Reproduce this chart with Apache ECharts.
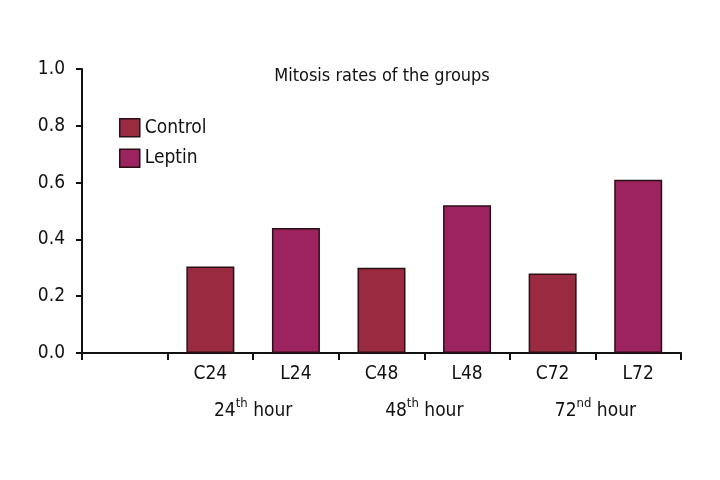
<!DOCTYPE html>
<html>
<head>
<meta charset="utf-8">
<script src="https://cdn.jsdelivr.net/npm/echarts@6/dist/echarts.min.js"></script>
<style>html,body{margin:0;padding:0;background:#fff}#c{width:720px;height:480px}</style>
</head>
<body>
<div id="c"></div>
<script>
var categories = ['', 'C24', 'L24', 'C48', 'L48', 'C72', 'L72'];
var controlValues = [null, 0.305, null, 0.30, null, 0.28, null];
var leptinValues = [null, null, 0.44, null, 0.52, null, 0.61];
var groupLabels = {2: ['24', 'th'], 4: ['48', 'th'], 6: ['72', 'nd']};
var yTicks = [0, 0.2, 0.4, 0.6, 0.8, 1.0];

var FONT = '"Liberation Sans Narrow", "DejaVu Sans Condensed", sans-serif';
var chart = echarts.init(document.getElementById('c'), null, {renderer: 'canvas'});
chart.setOption({
  animation: false,
  backgroundColor: '#fff',
  title: {
    text: 'Mitosis rates of the groups',
    left: 377, top: 62, textAlign: 'center',
    textStyle: {fontFamily: FONT, fontSize: 18, fontWeight: 'normal', color: '#111'}
  },
  legend: {
    orient: 'vertical', left: 114, top: 113, icon: 'rect',
    itemWidth: 20, itemHeight: 18, itemGap: 11,
    textStyle: {fontFamily: FONT, fontSize: 19, color: '#111', padding: [0, 0, 0, 0]},
    data: [
      {name: 'Control', itemStyle: {borderColor: '#2a1016', borderWidth: 1.5}},
      {name: 'Leptin', itemStyle: {borderColor: '#2a1016', borderWidth: 1.5}}
    ]
  },
  grid: {left: 82, right: 39, top: 69, bottom: 127, containLabel: false},
  xAxis: [{
    type: 'category', data: categories, position: 'bottom',
    boundaryGap: true,
    axisLine: {lineStyle: {color: '#111', width: 2}},
    axisTick: {show: true, length: 7, inside: false, alignWithLabel: false, lineStyle: {color: '#111', width: 2}},
    axisLabel: {fontFamily: FONT, fontSize: 19, color: '#111', margin: 12}
  }, {
    type: 'value', min: 0, max: 7, interval: 1, position: 'bottom', offset: 32,
    axisLine: {show: false}, axisTick: {show: false}, splitLine: {show: false},
    axisLabel: {
      fontFamily: FONT, fontSize: 19, color: '#111', showMinLabel: true, showMaxLabel: true,
      formatter: function (v) {
        var g = groupLabels[v];
        return g ? '{n|' + g[0] + '}{s|' + g[1] + '}{n| hour}' : '';
      },
      rich: {
        n: {fontFamily: FONT, fontSize: 19, color: '#111', verticalAlign: 'bottom', height: 22},
        s: {fontFamily: FONT, fontSize: 13, color: '#111', verticalAlign: 'top', height: 22, padding: [0, 0, 7, 0]}
      }
    }
  }],
  yAxis: {
    type: 'value', min: 0, max: 1, interval: 0.2,
    axisLine: {show: true, lineStyle: {color: '#111', width: 2}},
    axisTick: {show: true, length: 6, lineStyle: {color: '#111', width: 2}},
    splitLine: {show: false},
    axisLabel: {fontFamily: FONT, fontSize: 19, color: '#111', margin: 17,
      formatter: function (v) { return v.toFixed(1); }}
  },
  series: [{
    name: 'Control', type: 'bar', stack: 'g', xAxisIndex: 0, data: controlValues,
    barWidth: 48,
    itemStyle: {color: '#9a2a40', borderColor: '#2a1016', borderWidth: 1.5}
  }, {
    name: 'Leptin', type: 'bar', stack: 'g', xAxisIndex: 0, data: leptinValues,
    barWidth: 48,
    itemStyle: {color: '#9c2360', borderColor: '#2a1016', borderWidth: 1.5}
  }]
});
</script>
</body>
</html>
